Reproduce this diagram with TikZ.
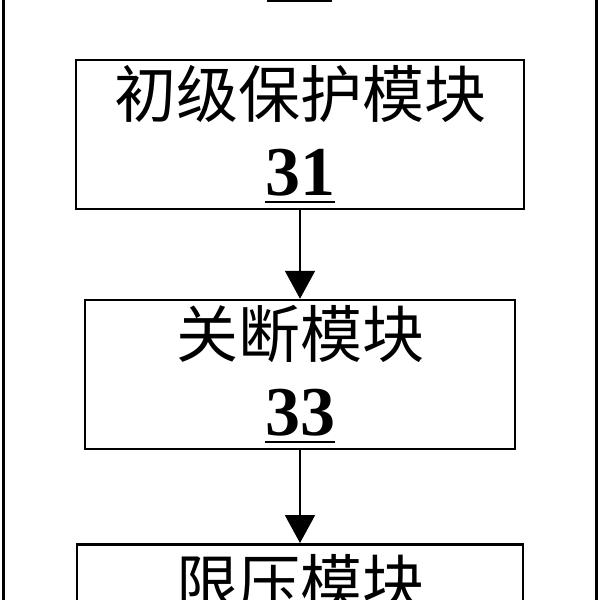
\documentclass[tikz,border=0pt]{standalone}
\usepackage{fontspec}
\setmainfont{Liberation Serif}
\newfontfamily\cjk{Noto Sans CJK SC}
\usepackage{tikz}
\usetikzlibrary{arrows.meta}

% module number, underlined
\newcommand{\modnum}[1]{{\rmfamily\bfseries\fontsize{35}{39}\selectfont
  \setbox0\hbox{#1}\vtop{\copy0\kern2pt\hrule width\wd0 height1.4pt}}}

\tikzset{
  modbox/.style={draw,line width=1.25pt,align=center,inner sep=0pt,
    font=\cjk\fontsize{31}{39}\selectfont},
  flow/.style={-{Triangle[width=15pt,length=14pt]},line width=1pt}
}

\begin{document}
\begin{tikzpicture}[x=0.5pt,y=-0.5pt]
			\useasboundingbox (0,0) rectangle (600,600);
			\clip (0,0) rectangle (600,600);
			% outer frame and its number, cut off by the page
			\node[draw,line width=1.2pt,minimum width=296.5pt,minimum height=400pt] (frame) at (300,300) {};
			\draw[line width=1.4pt] (267,1)--(332,1);
			% modules
			\node[modbox,minimum width=224pt,minimum height=74.5pt] (prim) at (300,134.5) {初级保护模块\\\modnum{31}};
			\node[modbox,minimum width=215pt,minimum height=74.5pt] (cut) at (300,374.5) {关断模块\\\modnum{33}};
			\node[modbox,minimum width=223pt,anchor=north,inner ysep=5pt,text depth=40pt] (lim) at (300,543) {限压模块};
			\draw[flow] (prim)--(cut);
			\draw[flow] (cut)--(lim);
		\end{tikzpicture}
\end{document}
